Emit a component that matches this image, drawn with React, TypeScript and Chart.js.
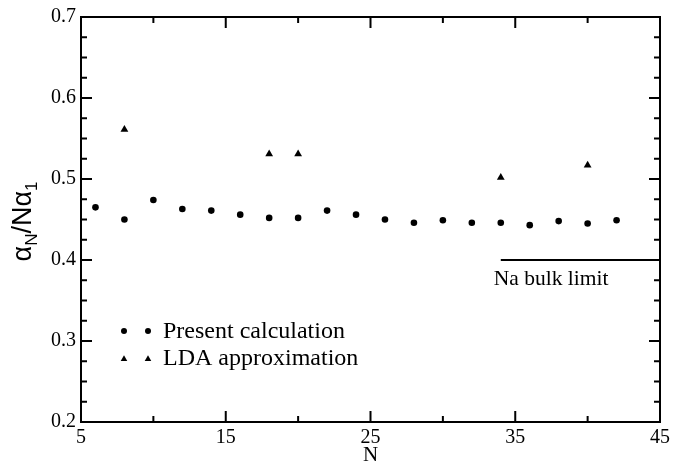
import React, { useEffect, useRef } from "react";
import { Chart, registerables } from "chart.js";

Chart.register(...registerables);

// ---- data ----
const N_PRESENT = [6, 8, 10, 12, 14, 16, 18, 20, 22, 24, 26, 28, 30, 32, 34, 36, 38, 40, 42];
const ALPHA_PRESENT = [0.465, 0.450, 0.474, 0.463, 0.461, 0.456, 0.452, 0.452, 0.461, 0.456, 0.450, 0.446, 0.449, 0.446, 0.446, 0.443, 0.448, 0.445, 0.449];
const N_LDA = [8, 18, 20, 34, 40];
const ALPHA_LDA = [0.561, 0.531, 0.531, 0.502, 0.517];
const BULK_N = [34, 45];
const BULK_VALUE = 0.4;

const X_TICKS = [5, 15, 25, 35, 45];
const X_MINOR = [10, 20, 30, 40];
const Y_TICKS = [0.2, 0.3, 0.4, 0.5, 0.6, 0.7];
const Y_MINOR = [0.225, 0.25, 0.275, 0.325, 0.35, 0.375, 0.425, 0.45, 0.475, 0.525, 0.55, 0.575, 0.625, 0.65, 0.675];

const LEGEND_LABELS = ["Present calculation", "LDA approximation"];
const BULK_LABEL = "Na bulk limit";
const X_TITLE = "N";

const SERIF = "'Liberation Serif', 'Times New Roman', serif";
const SANS = "'Liberation Sans', Arial, sans-serif";

export default function App() {
  const ref = useRef<HTMLCanvasElement>(null);

  useEffect(() => {
    const canvas = ref.current!;
    const deco = {
      id: "deco",
      afterDraw(chart: any) {
        const ctx = chart.ctx as CanvasRenderingContext2D;
        const { left, right, top, bottom } = chart.chartArea;
        const xs = chart.scales.x;
        const ys = chart.scales.y;
        ctx.save();
        ctx.strokeStyle = "#000";
        ctx.fillStyle = "#000";
        ctx.lineWidth = 2;
        ctx.strokeRect(left, top, right - left, bottom - top);
        const MAJ = 11, MIN = 6;
        ctx.beginPath();
        const xt = (v: number, len: number) => {
          const px = xs.getPixelForValue(v);
          ctx.moveTo(px, bottom); ctx.lineTo(px, bottom - len);
          ctx.moveTo(px, top); ctx.lineTo(px, top + len);
        };
        const yt = (v: number, len: number) => {
          const py = ys.getPixelForValue(v);
          ctx.moveTo(left, py); ctx.lineTo(left + len, py);
          ctx.moveTo(right, py); ctx.lineTo(right - len, py);
        };
        X_TICKS.forEach((v) => xt(v, MAJ));
        X_MINOR.forEach((v) => xt(v, MIN));
        Y_TICKS.forEach((v) => yt(v, MAJ));
        Y_MINOR.forEach((v) => yt(v, MIN));
        ctx.stroke();

        // x title
        ctx.font = `21px ${SERIF}`;
        ctx.textAlign = "center";
        ctx.textBaseline = "alphabetic";
        ctx.fillText(X_TITLE, (left + right) / 2, 461);

        // y title with subscripts
        ctx.save();
        ctx.translate(31, (top + bottom) / 2 + 2);
        ctx.rotate(-Math.PI / 2);
        const parts = [
          { t: "α", f: `27px ${SANS}`, dy: 0 },
          { t: "N", f: `17px ${SANS}`, dy: 6 },
          { t: "/Nα", f: `27px ${SANS}`, dy: 0 },
          { t: "1", f: `17px ${SANS}`, dy: 6 },
        ];
        let total = 0;
        parts.forEach((p) => { ctx.font = p.f; total += ctx.measureText(p.t).width; });
        let cx = -total / 2;
        ctx.textAlign = "left";
        parts.forEach((p) => {
          ctx.font = p.f;
          ctx.fillText(p.t, cx, p.dy);
          cx += ctx.measureText(p.t).width;
        });
        ctx.restore();

        // legend
        ctx.font = `24px ${SERIF}`;
        ctx.textAlign = "left";
        ctx.textBaseline = "middle";
        const rows = [331, 358];
        const mx = [124, 148];
        mx.forEach((x) => { ctx.beginPath(); ctx.arc(x, rows[0], 3, 0, Math.PI * 2); ctx.fill(); });
        mx.forEach((x) => {
          const r = 3.8, y = rows[1] + 1;
          ctx.beginPath();
          ctx.moveTo(x, y - r);
          ctx.lineTo(x + r * 0.866, y + r * 0.5);
          ctx.lineTo(x - r * 0.866, y + r * 0.5);
          ctx.closePath();
          ctx.fill();
        });
        ctx.fillText(LEGEND_LABELS[0], 163, rows[0] + 1);
        ctx.fillText(LEGEND_LABELS[1], 163, rows[1] + 1);

        // bulk label
        ctx.font = `21.5px ${SERIF}`;
        ctx.textBaseline = "alphabetic";
        ctx.fillText(BULK_LABEL, xs.getPixelForValue(BULK_N[0]) - 7, 285);
        ctx.restore();
      },
    };

    const chart = new Chart(canvas, {
      type: "scatter",
      data: {
        datasets: [
          {
            label: LEGEND_LABELS[0],
            data: N_PRESENT.map((n, i) => ({ x: n, y: ALPHA_PRESENT[i] })),
            pointStyle: "circle",
            pointRadius: 3.3,
            backgroundColor: "#000",
            borderColor: "#000",
            borderWidth: 0,
          },
          {
            label: LEGEND_LABELS[1],
            data: N_LDA.map((n, i) => ({ x: n, y: ALPHA_LDA[i] })),
            pointStyle: "triangle",
            pointRadius: 4.5,
            backgroundColor: "#000",
            borderColor: "#000",
            borderWidth: 0,
          },
          {
            label: BULK_LABEL,
            data: BULK_N.map((n) => ({ x: n, y: BULK_VALUE })),
            showLine: true,
            pointRadius: 0,
            borderColor: "#000",
            borderWidth: 2,
          } as any,
        ],
      },
      options: {
        responsive: false,
        devicePixelRatio: 1,
        animation: false,
        layout: { padding: { left: 0, top: 15, right: 12, bottom: 0 } },
        plugins: { legend: { display: false }, tooltip: { enabled: false } },
        scales: {
          x: {
            type: "linear",
            min: 5,
            max: 45,
            afterBuildTicks: (s: any) => { s.ticks = X_TICKS.map((v) => ({ value: v })); },
            afterFit: (s: any) => { s.height = 44; },
            ticks: { font: { family: SERIF, size: 20 }, color: "#000", padding: 4, maxRotation: 0, autoSkip: false },
            grid: { display: false, drawTicks: false },
            border: { display: false },
          },
          y: {
            type: "linear",
            min: 0.2,
            max: 0.7,
            afterBuildTicks: (s: any) => { s.ticks = Y_TICKS.map((v) => ({ value: v })); },
            afterFit: (s: any) => { s.width = 81; },
            ticks: {
              font: { family: SERIF, size: 20 },
              color: "#000",
              padding: 5,
              autoSkip: false,
              callback: (v: any) => Number(v).toFixed(1),
            },
            grid: { display: false, drawTicks: false },
            border: { display: false },
          },
        },
      },
      plugins: [deco],
    });
    return () => chart.destroy();
  }, []);

  return (
    <div style={{ position: "absolute", left: 0, top: 0, width: 674, height: 466, background: "#fff" }}>
      <canvas ref={ref} width={674} height={466} style={{ display: "block", width: 674, height: 466 }} />
    </div>
  );
}
